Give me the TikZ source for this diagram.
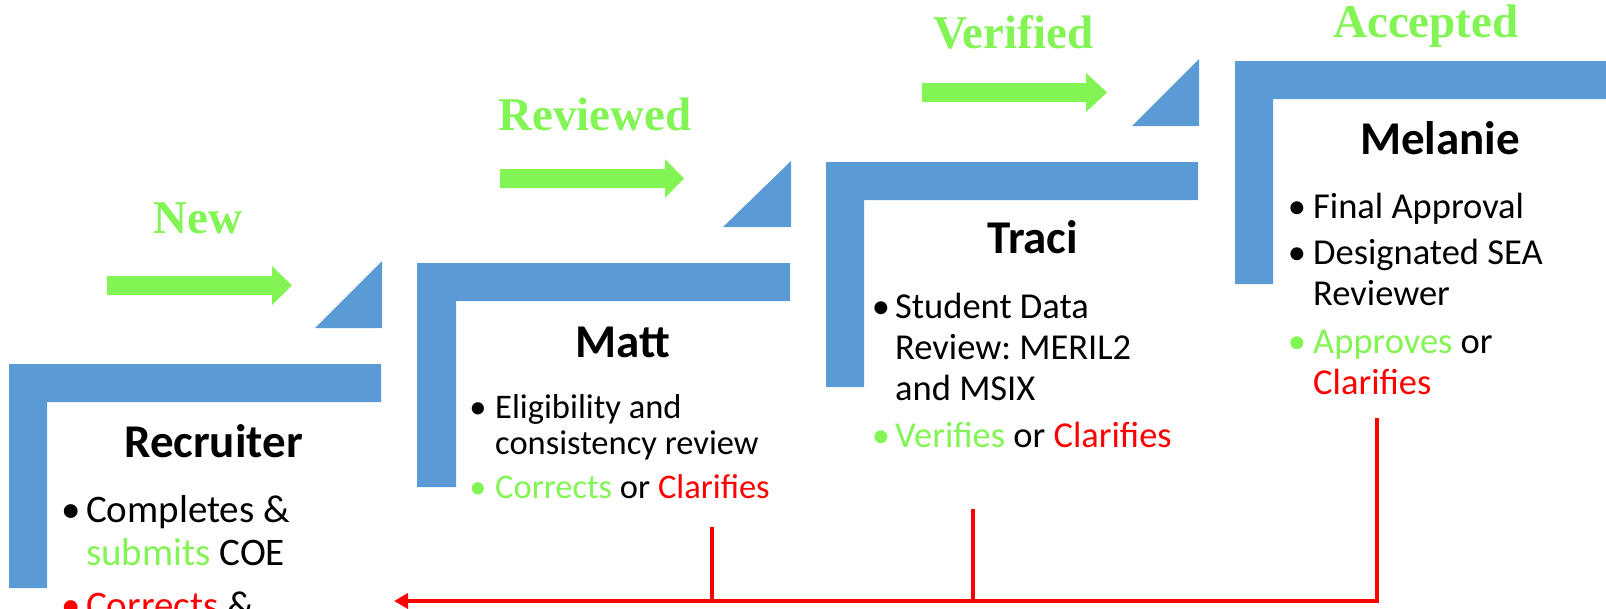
\documentclass[tikz,border=0pt]{standalone}
\usepackage{fontspec}
\setmainfont{Carlito}
\newfontfamily\stagefont{Liberation Serif}
\usetikzlibrary{arrows.meta}
\definecolor{lblue}{RGB}{91,155,213}
\definecolor{lgreen}{RGB}{130,244,84}
\definecolor{rred}{RGB}{255,0,0}
\frenchspacing
\begin{document}
\begin{tikzpicture}[x=1pt,y=-1pt,
  txtA/.style={anchor=base west,inner sep=0pt,font=\fontsize{39}{39}\selectfont},
  txtB/.style={anchor=base west,inner sep=0pt,font=\fontsize{34.5}{34.5}\selectfont},
  txtC/.style={anchor=base west,inner sep=0pt,font=\fontsize{36.5}{36.5}\selectfont},
  bulA/.style={anchor=base,inner sep=0pt,font=\fontsize{39}{39}\selectfont},
  bulB/.style={anchor=base,inner sep=0pt,font=\fontsize{34.5}{34.5}\selectfont},
  bulC/.style={anchor=base,inner sep=0pt,font=\fontsize{36.5}{36.5}\selectfont},
  head/.style={anchor=base west,inner sep=0pt,font=\fontsize{47}{47}\selectfont\bfseries},
  stage/.style={anchor=base west,inner sep=0pt,text=lgreen,font=\stagefont\fontsize{47}{47}\selectfont\bfseries},
  bar/.style={fill=lblue},
  garrow/.style={fill=lgreen},
  back/.style={draw=rred,line width=4pt,line join=miter},
]
\useasboundingbox (0,0) rectangle (1606,608);

% L-shaped bars
\fill[bar] (9,364) -- (381,364) -- (381,402) -- (47,402) -- (47,588) -- (9,588) -- cycle;
\fill[bar] (417,263) -- (790,263) -- (790,301) -- (456,301) -- (456,487) -- (417,487) -- cycle;
\fill[bar] (826,162) -- (1198,162) -- (1198,200) -- (864,200) -- (864,387) -- (826,387) -- cycle;
\fill[bar] (1235,61) -- (1606,61) -- (1606,99) -- (1273,99) -- (1273,284) -- (1235,284) -- cycle;

% triangles
\fill[bar] (315,328) -- (382,328) -- (382,261) -- cycle;
\fill[bar] (723,227) -- (791,227) -- (791,161) -- cycle;
\fill[bar] (1132,126) -- (1199,126) -- (1199,59) -- cycle;

% green block arrows
\fill[garrow] (107,276) -- (272,276) -- (272,266) -- (292,285.5) -- (272,305) -- (272,295) -- (107,295) -- cycle;
\fill[garrow] (500,169) -- (665,169) -- (665,159) -- (684,178.5) -- (665,198) -- (665,188) -- (500,188) -- cycle;
\fill[garrow] (922,83) -- (1086,83) -- (1086,73) -- (1107,92.5) -- (1086,112) -- (1086,102) -- (922,102) -- cycle;

% stage labels
\node[stage] (sNew) at (153,233) {New};
\node[stage] (sRev) at (498,130) {Reviewed};
\node[stage] (sVer) at (933,48) {Verified};
\node[stage] (sAcc) at (1333,37) {Accepted};

% headings
\node[head] (hRec) at (124,457) {Recruiter};
\node[head] (hMat) at (575,357) {Matt};
\node[head] (hTra) at (987,253) {Traci};
\node[head] (hMel) at (1360,154) {Melanie};

% Recruiter bullets
\node[bulA] (rb1) at (71,522) {•};
\node[txtA] (rt1) at (86,522) {Completes \&};
\node[txtA] (rt2) at (86,565) {\textcolor{lgreen}{submits} COE};
\node[bulA,text=rred] (rb3) at (71,618) {•};
\node[txtA] (rt3) at (86,618) {\textcolor{rred}{Corrects} \&};

% Matt bullets
\node[bulB] (mb1) at (478,418) {•};
\node[txtB] (mt1) at (495,418) {Eligibility and};
\node[txtB] (mt2) at (495,454) {consistency review};
\node[bulB,text=lgreen] (mb3) at (478,498) {•};
\node[txtB] (mt3) at (495,498) {\textcolor{lgreen}{Corrects} or \textcolor{rred}{Clarifies}};

% Traci bullets
\node[bulC] (tb1) at (881,318) {•};
\node[txtC] (tt1) at (895,318) {Student Data};
\node[txtC] (tt2) at (895,359) {Review: MERIL2};
\node[txtC] (tt3) at (895,400) {and MSIX};
\node[bulC,text=lgreen] (tb4) at (881,447) {•};
\node[txtC] (tt4) at (895,447) {\textcolor{lgreen}{Verifies} or \textcolor{rred}{Clarifies}};

% Melanie bullets
\node[bulC] (lb1) at (1297,218) {•};
\node[txtC] (lt1) at (1313,218) {Final Approval};
\node[bulC] (lb2) at (1297,264) {•};
\node[txtC] (lt2) at (1313,264) {Designated SEA};
\node[txtC] (lt3) at (1313,305) {Reviewer};
\node[bulC,text=lgreen] (lb4) at (1297,353) {•};
\node[txtC] (lt4) at (1313,353) {\textcolor{lgreen}{Approves} or};
\node[txtC,text=rred] (lt5) at (1313,394) {Clarifies};

% red return connectors
\coordinate (mattc) at (712,527);
\coordinate (tracic) at (973,509);
\coordinate (melc) at (1377,418);
\coordinate (recc) at (394,601);
\draw[back,-{Triangle[length=14pt,width=15pt]}] (melc) |- (recc);
\draw[back] (mattc) -- (mattc |- recc);
\draw[back] (tracic) -- (tracic |- recc);
\end{tikzpicture}
\end{document}
